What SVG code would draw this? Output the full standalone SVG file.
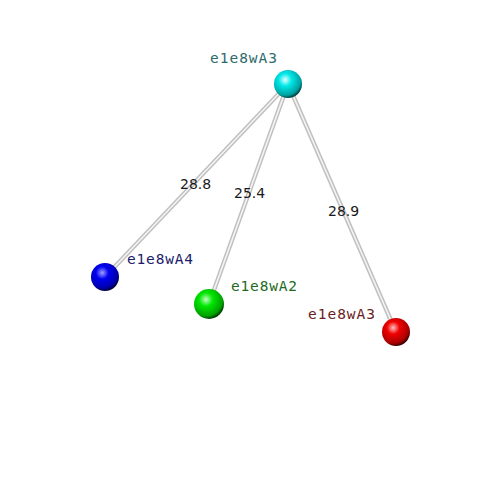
<svg xmlns="http://www.w3.org/2000/svg" width="500" height="500" viewBox="0 0 500 500">
<defs>
<radialGradient id="gc" cx="0.4" cy="0.35" r="0.65"><stop offset="0" stop-color="#e0ffff"/><stop offset="0.35" stop-color="#00e8e8"/><stop offset="0.85" stop-color="#00a0a0"/><stop offset="1" stop-color="#004848"/></radialGradient>
<radialGradient id="gb" cx="0.4" cy="0.35" r="0.65"><stop offset="0" stop-color="#a0a0ff"/><stop offset="0.35" stop-color="#0000f0"/><stop offset="0.85" stop-color="#0000a8"/><stop offset="1" stop-color="#000040"/></radialGradient>
<radialGradient id="gg" cx="0.4" cy="0.35" r="0.65"><stop offset="0" stop-color="#c0ffc0"/><stop offset="0.35" stop-color="#00e800"/><stop offset="0.85" stop-color="#00a000"/><stop offset="1" stop-color="#004000"/></radialGradient>
<radialGradient id="gr" cx="0.4" cy="0.35" r="0.65"><stop offset="0" stop-color="#ffc0c0"/><stop offset="0.35" stop-color="#f00000"/><stop offset="0.85" stop-color="#a80000"/><stop offset="1" stop-color="#400000"/></radialGradient>
</defs>
<style>
.bo{stroke:#c0c0c0;stroke-width:4.5;stroke-linecap:round}
.bi{stroke:#f4f4f4;stroke-width:1.6;stroke-linecap:round}
.nl{font-family:"DejaVu Sans Mono",monospace;font-size:14.5px}
.el{font-family:"DejaVu Sans",sans-serif;font-size:14px;fill:#1a1a1a}
</style>
<g id="connectors">
<line class="bo" x1="288" y1="84" x2="105" y2="277"/>
<line class="bi" x1="288" y1="84" x2="105" y2="277"/>
<line class="bo" x1="288" y1="84" x2="209" y2="304"/>
<line class="bi" x1="288" y1="84" x2="209" y2="304"/>
<line class="bo" x1="288" y1="84" x2="396" y2="332"/>
<line class="bi" x1="288" y1="84" x2="396" y2="332"/>
<text class="el" x="180" y="189">28.8</text>
<text class="el" x="234" y="198">25.4</text>
<text class="el" x="328" y="216">28.9</text>
</g>
<g id="n1">
<circle cx="288" cy="84" r="14" fill="url(#gc)"/>
<text class="nl" x="210" y="63" fill="#2e6b6b" textLength="67">e1e8wA3</text>
</g>
<g id="n2">
<circle cx="105" cy="277" r="14" fill="url(#gb)"/>
<text class="nl" x="127" y="264" fill="#1c1c6a" textLength="66">e1e8wA4</text>
</g>
<g id="n3">
<circle cx="209" cy="304" r="15" fill="url(#gg)"/>
<text class="nl" x="231" y="291" fill="#1e6a1e" textLength="66">e1e8wA2</text>
</g>
<g id="n4">
<circle cx="396" cy="332" r="14" fill="url(#gr)"/>
<text class="nl" x="308" y="319" fill="#6a1e1e" textLength="67">e1e8wA3</text>
</g>
</svg>
